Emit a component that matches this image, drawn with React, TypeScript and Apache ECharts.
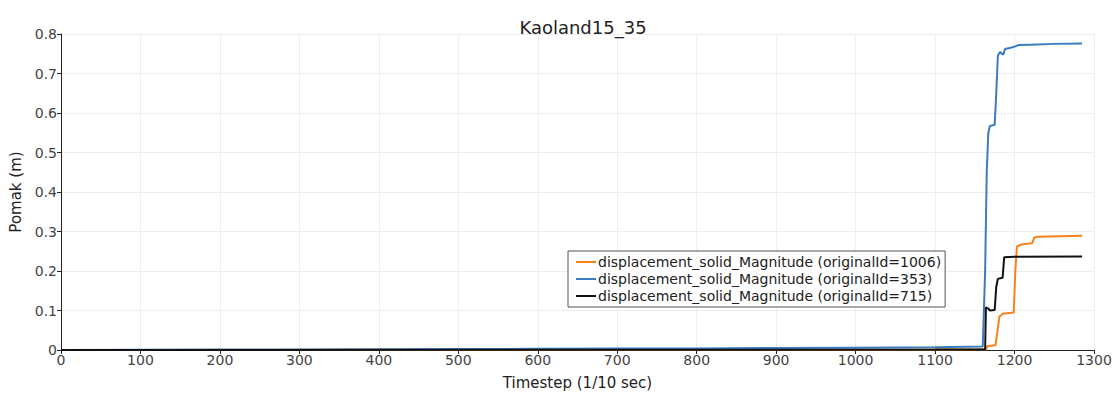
import React, { useEffect, useRef } from "react";
import * as echarts from "echarts";

const titleText = "Kaoland15_35";
const xName = "Timestep (1/10 sec)";
const yName = "Pomak (m)";

const seriesNames = [
  "displacement_solid_Magnitude (originalId=1006)",
  "displacement_solid_Magnitude (originalId=353)",
  "displacement_solid_Magnitude (originalId=715)",
];

const orangeData: [number, number][] = [
  [0, 0], [1100, 0.001], [1164, 0.002], [1166, 0.01], [1176, 0.012], [1178, 0.04],
  [1181, 0.085], [1185, 0.092], [1199, 0.095], [1201, 0.2], [1203, 0.262], [1210, 0.268],
  [1222, 0.27], [1225, 0.285], [1230, 0.287], [1285, 0.289],
];

const blueData: [number, number][] = [
  [0, 0], [100, 0.0005], [200, 0.001], [300, 0.0015], [400, 0.002], [500, 0.0025],
  [600, 0.003], [700, 0.0035], [800, 0.004], [900, 0.005], [1000, 0.006], [1100, 0.007],
  [1160, 0.009], [1163, 0.2], [1165, 0.45], [1167, 0.55], [1169, 0.567], [1175, 0.57],
  [1177, 0.65], [1179, 0.745], [1182, 0.755], [1184, 0.75], [1186, 0.748], [1188, 0.762],
  [1195, 0.765], [1200, 0.768], [1205, 0.772], [1220, 0.773], [1250, 0.775], [1285, 0.776],
];

const blackData: [number, number][] = [
  [0, 0], [1100, 0.001], [1163, 0.002], [1164, 0.108], [1167, 0.105], [1169, 0.1],
  [1175, 0.101], [1177, 0.16], [1179, 0.18], [1185, 0.183], [1187, 0.235], [1200, 0.236],
  [1285, 0.237],
];

const colors = ["#f7821b", "#3a7dbf", "#111111"];

export default function App() {
  const ref = useRef<HTMLDivElement>(null);
  useEffect(() => {
    if (!ref.current) return;
    const chart = echarts.init(ref.current, undefined, { renderer: "svg" });
    const font = "'DejaVu Sans', sans-serif";
    const datas = [orangeData, blueData, blackData];
    chart.setOption({
      animation: false,
      backgroundColor: "#ffffff",
      textStyle: { fontFamily: font },
      title: {
        text: titleText,
        left: 578,
        top: 13,
        textAlign: "center",
        textStyle: { fontSize: 18, fontWeight: "normal", color: "#222", fontFamily: font },
      },
      grid: { left: 61, right: 24, top: 34, bottom: 44, containLabel: false, outerBoundsMode: "none" },
      legend: {
        orient: "vertical",
        left: 568,
        top: 251,
        padding: [4, 4, 4, 8],
        itemGap: 3,
        itemWidth: 20,
        itemHeight: 2,
        icon: "rect",
        backgroundColor: "#ffffff",
        borderColor: "#555",
        borderWidth: 1,
        borderRadius: 0,
        textStyle: { fontSize: 14, color: "#222", fontFamily: font, padding: [0, 0, 0, -3] },
        data: seriesNames,
      },
      xAxis: {
        type: "value",
        min: 0,
        max: 1300,
        interval: 100,
        name: xName,
        nameLocation: "middle",
        nameGap: 25,
        nameTextStyle: { fontSize: 15, color: "#222", fontFamily: font },
        axisLine: { lineStyle: { color: "#222", width: 1 } },
        axisTick: { show: true, inside: false, length: 4, lineStyle: { color: "#222" } },
        axisLabel: {
          fontSize: 14,
          color: "#444",
          margin: 3,
          fontFamily: font,
          formatter: (v: number) => String(v),
        },
        splitLine: { show: true, lineStyle: { color: "#eeeeee", width: 1 } },
      },
      yAxis: {
        type: "value",
        min: 0,
        max: 0.8,
        interval: 0.1,
        name: yName,
        nameLocation: "middle",
        nameGap: 34,
        nameTextStyle: { fontSize: 15, color: "#222", fontFamily: font },
        axisLine: { show: true, lineStyle: { color: "#222", width: 1 } },
        axisTick: { show: true, length: 4, lineStyle: { color: "#222" } },
        axisLabel: {
          fontSize: 14,
          color: "#444",
          margin: 4,
          fontFamily: font,
          formatter: (v: number) => (v === 0 ? "0" : String(Math.round(v * 10) / 10)),
        },
        splitLine: { show: true, lineStyle: { color: "#eeeeee", width: 1 } },
      },
      series: seriesNames.map((name, i) => ({
        name,
        type: "line",
        data: datas[i],
        showSymbol: false,
        symbol: "none",
        lineStyle: { color: colors[i], width: 2 },
        itemStyle: { color: colors[i] },
        z: i + 2,
      })),
    });
    return () => chart.dispose();
  }, []);
  return (
    <div
      ref={ref}
      style={{ position: "fixed", left: 0, top: 0, width: 1118, height: 394 }}
    />
  );
}
